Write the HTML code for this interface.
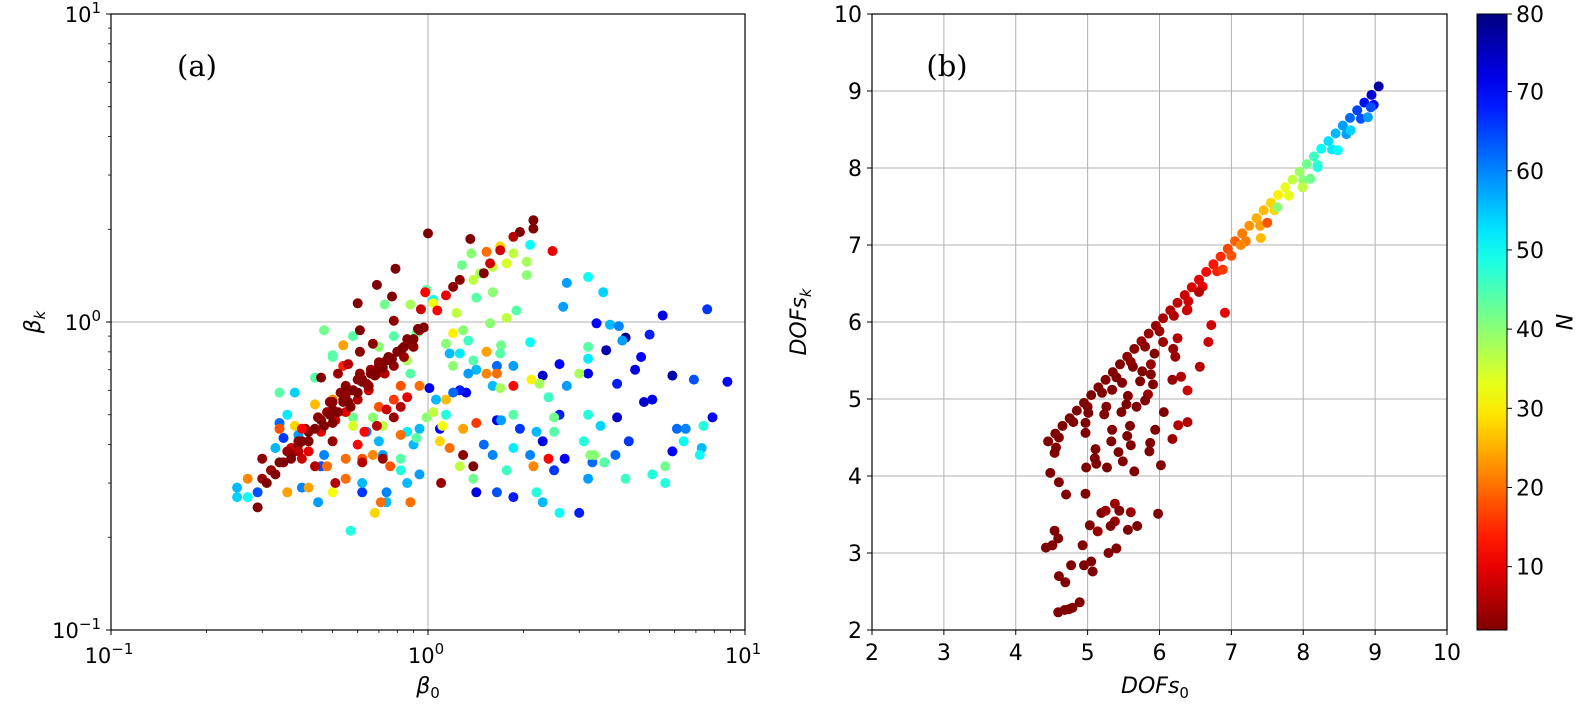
<!DOCTYPE html>
<html><head><meta charset="utf-8">
<style>
html,body{margin:0;padding:0;background:#fff;}
svg{display:block;font-family:"DejaVu Sans","Liberation Sans",sans-serif;}
</style></head>
<body>
<svg id="fig" width="1578" height="705" viewBox="0 0 1578 705" xmlns="http://www.w3.org/2000/svg">
<defs><linearGradient id="jetgrad" x1="0" y1="1" x2="0" y2="0"></linearGradient></defs>
<g id="panelA"></g>
<g id="panelB"></g>
<g id="cbar"></g>
</svg>
<script>
// ---------- Panel (a) data: beta0, betak, N ----------
const aBeta0 = [3.4,5.5,7.6,5.0,3.65,4.2,4.7,4.5,5.9,8.8,6.9,3.95,3.2,2.3,2.6,5.1,4.8,7.9,5.9,3.95,4.3,2.6,2.3,1.95,1.65,1.32,1.26,1.01,1.09,2.7,3.0,1.86,1.42,1.65,0.62,2.5,3.3,3.9,6.1,6.5,7.3,7.4,6.4,5.1,5.6,4.2,3.6,3.2,2.6,2.3,2.2,7.2,2.74,3.2,3.57,2.67,3.75,4.0,4.1,2.1,3.2,3.2,3.0,2.74,2.4,3.2,3.5,2.5,3.1,3.35,2.2,2.1,1.86,1.77,1.6,1.5,1.7,1.86,1.86,1.65,1.6,1.42,1.39,1.26,1.17,1.2,1.34,1.2,1.06,1.14,0.99,0.94,0.86,0.9,0.82,0.86,0.94,0.74,0.82,0.7,0.64,0.72,0.62,0.74,0.45,0.5,0.4,0.34,0.38,0.36,0.34,0.35,0.33,0.39,0.47,0.46,0.25,0.25,0.27,0.29,0.57,0.47,0.5,0.44,0.73,0.88,1.04,1.28,1.37,1.53,1.69,1.86,2.05,2.05,2.1,1.77,1.6,1.46,1.39,1.6,1.42,1.23,1.29,1.57,1.77,1.9,1.7,1.53,1.69,1.34,1.14,1.2,1.04,0.99,0.92,0.78,0.7,0.58,0.54,0.5,0.54,0.86,0.88,0.94,0.82,0.78,0.7,0.67,0.58,0.58,0.72,0.82,0.92,1.17,1.29,1.42,1.14,1.09,1.04,1.11,1.26,1.39,1.53,1.65,1.86,2.12,2.25,1.69,2.4,2.15,3.25,3.6,5.6,2.5,0.68,0.88,0.71,0.48,0.36,0.27,0.42,0.55,0.62,0.51,0.55,0.34,0.38,0.44,0.5,0.5,0.6,0.67,0.76,1.1,1.29,1.39,0.72,0.62,0.29,0.3,0.3,0.32,0.37,0.4,0.44,0.56,0.67,0.61,0.6,0.69,0.77,0.79,0.78,1.0,1.36,0.95,0.98,1.07,1.14,1.2,1.26,1.5,1.69,1.86,1.95,2.15,2.15,2.47,1.57,0.94,0.88,0.84,0.74,0.69,0.62,0.58,0.54,0.5,0.46,0.42,0.39,0.37,0.34,0.32,0.66,0.61,0.55,0.53,0.49,0.48,0.45,0.41,0.39,0.36,0.84,0.9,0.78,0.73,0.65,0.6,0.55,0.51,0.46,0.39,0.74,0.82,0.86,0.78,0.69,0.63,0.61,0.55,0.52,0.46,0.4,0.42,
0.31,0.33,0.35,0.37,0.40,0.42,0.44,0.47,0.49,0.52,0.54,0.56,0.58,0.6,0.62,0.64,0.66,0.68,0.7,0.72,0.75,0.77,0.8,0.83,0.86,0.9,0.93,0.97,0.45,0.5,0.55,0.6,0.65,0.7,0.5,0.57];
const aBetaK = [0.99,1.05,1.1,0.91,0.81,0.89,0.77,0.70,0.67,0.64,0.65,0.63,0.68,0.67,0.73,0.56,0.55,0.49,0.38,0.49,0.41,0.5,0.41,0.45,0.48,0.59,0.6,0.61,0.45,0.36,0.24,0.27,0.28,0.28,0.28,0.33,0.35,0.37,0.45,0.45,0.39,0.46,0.41,0.32,0.30,0.31,0.35,0.31,0.24,0.26,0.28,0.37,1.34,1.4,1.25,1.12,0.98,0.97,0.87,0.86,0.83,0.76,0.68,0.62,0.57,0.5,0.46,0.49,0.41,0.37,0.44,0.37,0.39,0.33,0.37,0.40,0.48,0.5,0.72,0.72,0.62,0.7,0.75,0.79,0.79,0.72,0.68,0.59,0.56,0.5,0.49,0.45,0.44,0.4,0.36,0.3,0.32,0.28,0.33,0.41,0.44,0.37,0.3,0.26,0.26,0.28,0.29,0.59,0.59,0.5,0.47,0.42,0.39,0.43,0.37,0.34,0.29,0.27,0.27,0.28,0.21,0.94,0.77,0.66,1.14,1.14,1.18,1.53,1.67,1.69,1.76,1.67,1.57,1.42,1.78,1.55,1.51,1.44,1.37,1.25,1.2,1.07,0.94,0.99,1.03,1.09,0.84,0.8,0.79,0.87,0.85,0.92,1.15,1.27,0.92,0.9,0.83,0.9,0.84,0.78,0.72,0.75,0.68,0.62,0.62,0.56,0.53,0.49,0.49,0.46,0.46,0.43,0.42,0.39,0.45,0.47,0.56,0.41,0.51,0.46,0.34,0.31,0.68,0.68,0.62,0.65,0.63,0.61,0.36,0.34,0.37,0.35,0.34,0.44,0.24,0.26,0.26,0.34,0.28,0.31,0.29,0.36,0.36,0.3,0.31,0.45,0.46,0.54,0.56,0.41,0.4,0.37,0.34,0.3,0.37,0.34,0.36,0.35,0.25,0.31,0.36,0.33,0.39,0.36,0.34,0.73,0.85,0.94,1.15,1.32,1.21,1.49,1.01,1.94,1.86,1.1,1.25,1.09,1.22,1.3,1.37,1.44,1.71,1.89,1.96,2.14,2.01,1.7,1.55,0.94,0.87,0.83,0.75,0.68,0.65,0.6,0.56,0.52,0.48,0.44,0.4,0.37,0.35,0.33,0.7,0.68,0.62,0.59,0.55,0.51,0.49,0.45,0.41,0.38,0.77,0.83,0.72,0.68,0.6,0.56,0.51,0.48,0.44,0.38,0.52,0.53,0.57,0.49,0.46,0.44,0.8,0.59,0.68,0.66,0.45,0.38,
0.30,0.32,0.35,0.36,0.41,0.41,0.45,0.46,0.5,0.51,0.55,0.55,0.6,0.59,0.64,0.63,0.68,0.67,0.72,0.71,0.77,0.76,0.8,0.82,0.88,0.88,0.95,0.96,0.49,0.55,0.58,0.65,0.62,0.74,0.47,0.53];
const aN = [70,72,66,68,76,78,70,72,76,70,64,68,72,74,70,72,74,70,70,74,66,68,72,66,72,70,68,72,70,70,68,68,72,64,66,66,62,62,62,60,56,48,50,48,48,46,56,58,50,56,48,50,58,50,54,58,56,60,58,50,44,52,38,58,46,48,54,42,48,40,56,60,52,46,60,62,58,44,58,62,56,56,44,52,56,40,58,62,56,48,40,56,52,56,44,56,58,60,48,56,60,58,56,56,58,32,60,44,54,52,62,66,56,58,60,64,56,54,50,64,48,42,44,44,42,38,50,42,40,20,28,36,38,40,50,34,36,38,36,40,44,36,40,40,36,44,42,24,44,46,40,30,32,44,42,44,40,44,24,44,14,38,44,20,18,16,18,40,42,34,36,20,44,20,24,16,26,28,36,32,36,42,22,20,12,30,38,38,12,22,40,44,42,44,28,20,20,20,24,22,24,20,18,6,20,18,28,26,22,4,12,22,18,4,3,2,4,6,2,4,3,6,8,8,6,6,3,2,2,2,2,2,3,2,2,8,12,12,10,3,3,2,8,6,2,2,2,10,8,4,2,2,2,2,2,2,2,2,2,2,2,2,2,4,4,3,3,3,3,4,2,4,3,4,4,3,3,6,8,6,10,8,10,6,8,6,10,4,6,12,3,2,4,2,12,10,
2,2,2,2,2,2,2,2,2,2,2,2,2,2,2,2,2,2,2,2,2,2,2,2,2,2,2,2,3,3,3,3,3,3,2,2];

// ---------- Panel (b) data: DOFs0, DOFsk, N ----------
const bDof0 = [6.91,6.72,6.68,6.56,6.38,6.25,6.19,6.22,6.3,6.18,6.39,6.05,5.93,5.88,5.88,5.91,5.84,5.8,5.76,5.73,5.63,5.68,5.56,5.54,5.47,5.48,5.34,5.26,5.23,5.01,6.06,6.39,6.26,5.94,6.18,5.59,5.55,5.6,5.34,5.33,5.87,5.86,5.43,5.49,5.65,6.02,5.11,5.1,5.12,4.98,5.27,4.97,4.97,4.54,4.56,4.48,4.6,4.7,4.97,5.19,5.25,5.38,5.44,5.6,5.98,5.03,5.14,5.38,5.32,5.56,5.69,4.54,4.59,4.42,4.51,4.93,5.29,5.4,4.77,4.95,5.05,5.07,4.6,4.69,4.89,4.79,4.68,4.59,4.74,
4.45,4.55,4.65,4.75,4.85,4.95,5.05,5.15,5.25,5.35,5.45,5.55,5.65,5.75,5.85,5.95,6.05,6.15,6.25,6.35,6.45,6.55,6.65,6.75,6.85,6.95,7.05,7.15,7.25,7.35,7.45,7.55,7.65,7.75,7.85,7.95,8.05,8.15,8.25,8.35,8.45,8.55,8.65,8.75,8.85,8.95,9.05,
4.6,4.8,5.0,5.2,5.4,5.6,5.8,6.0,6.2,6.4,6.6,6.8,7.0,7.2,7.4,7.6,7.8,8.0,8.2,8.4,8.6,8.8,8.98,
7.41,8.1,7.99,7.64,7.5,6.39,6.55,6.88,7.13,8.9,8.48,8.66,8.2,8.94];
const bDofK = [6.12,5.96,5.74,5.42,6.15,5.79,5.65,5.55,5.29,5.25,5.11,5.74,5.59,5.45,5.32,5.19,5.06,4.98,5.36,5.23,5.42,4.9,5.04,4.93,4.83,5.21,5.12,4.9,4.8,4.82,4.83,4.7,4.66,4.6,4.48,4.65,4.52,4.4,4.6,4.45,4.43,4.32,4.31,4.19,4.06,4.14,4.35,4.23,4.16,4.11,4.11,4.56,4.69,4.3,4.37,4.04,3.92,3.76,3.77,3.52,3.55,3.64,3.55,3.53,3.51,3.36,3.28,3.41,3.35,3.3,3.35,3.29,3.19,3.07,3.1,3.1,3.0,3.06,2.84,2.84,2.89,2.76,2.7,2.62,2.36,2.29,2.26,2.23,2.27,
4.45,4.55,4.65,4.75,4.85,4.95,5.05,5.15,5.25,5.35,5.45,5.55,5.65,5.75,5.85,5.95,6.05,6.15,6.25,6.35,6.45,6.55,6.65,6.75,6.85,6.95,7.05,7.15,7.25,7.35,7.45,7.55,7.65,7.75,7.85,7.95,8.05,8.15,8.25,8.35,8.45,8.55,8.65,8.75,8.85,8.95,9.06,
4.5,4.7,4.9,5.08,5.28,5.48,5.68,5.88,6.08,6.27,6.46,6.66,6.86,7.05,7.25,7.45,7.64,7.84,8.04,8.24,8.44,8.64,8.82,
7.09,7.86,7.75,7.49,7.29,6.16,6.39,6.68,7.0,8.66,8.23,8.49,8.01,8.79];
const bN = [10,8,8,6,8,6,4,4,6,4,8,4,2,4,2,2,4,2,2,2,2,2,2,2,2,2,2,2,2,2,2,6,6,2,4,2,2,2,2,2,2,2,2,2,2,2,2,2,2,2,2,2,2,2,2,2,2,2,2,2,4,4,2,4,2,2,4,4,2,2,2,2,2,2,2,2,2,2,2,2,2,2,2,2,2,2,2,2,2,
2,2,2,2,2,2,2,2,2,2,2,3,3,4,4,4,5,6,7,8,9,10,12,13,15,17,19,21,23,25,26,28,30,33,36,39,42,46,50,53,56,58,62,65,69,73,77,
2,2,2,2,2,3,3,4,6,8,10,14,18,21,24,28,33,40,46,52,58,64,70,
26,42,36,40,18,8,6,16,22,58,50,54,48,64];

const NMIN = 2, NMAX = 79.8;
const SVGNS = "http://www.w3.org/2000/svg";
function jet(v){
  let t=(v-NMIN)/(NMAX-NMIN); t=Math.max(0,Math.min(1,t));
  t=1-t; // reversed jet: low N dark red, high N dark blue
  const c=x=>Math.round(255*Math.max(0,Math.min(1,x)));
  return `rgb(${c(1.5-Math.abs(4*t-3))},${c(1.5-Math.abs(4*t-2))},${c(1.5-Math.abs(4*t-1))})`;
}
function el(tag, attrs, parent, text){
  const e=document.createElementNS(SVGNS,tag);
  for(const k in attrs) e.setAttribute(k,attrs[k]);
  if(text!==undefined) e.textContent=text;
  parent.appendChild(e); return e;
}
const GRID="#b0b0b0";

// ---------- Panel A ----------
const A={l:111,r:745,t:14,b:630};
const axAx=v=>A.l+(Math.log10(v)+1)/2*(A.r-A.l);
const axAy=v=>A.b-(Math.log10(v)+1)/2*(A.b-A.t);
const gA=document.getElementById('panelA');
const gridA = el('g',{},gA);


el('line',{x1:axAx(1),x2:axAx(1),y1:A.t,y2:A.b,stroke:GRID,'stroke-width':1},gridA);
el('line',{x1:A.l,x2:A.r,y1:axAy(1),y2:axAy(1),stroke:GRID,'stroke-width':1},gridA);
const ptsA=el('g',{},gA);


const nA=Math.min(aBeta0.length,aBetaK.length,aN.length);
for(let i=0;i<nA;i++){
  const c=el('circle',{cx:axAx(aBeta0[i]).toFixed(1),cy:axAy(aBetaK[i]).toFixed(1),r:5,fill:jet(aN[i])},ptsA);
  
  
}
el('rect',{x:A.l,y:A.t,width:A.r-A.l,height:A.b-A.t,fill:'none',stroke:'#000','stroke-width':1.2},gA);
const decA=[0.1,1,10], expA=['−1','0','1'];
for(let d=0; d<2; d++){
  for(let m=2;m<=9;m++){
    const v=decA[d]*m;
    el('line',{x1:axAx(v),x2:axAx(v),y1:A.b,y2:A.b+3,stroke:'#000','stroke-width':0.8},gA);
    el('line',{x1:A.l-3,x2:A.l,y1:axAy(v),y2:axAy(v),stroke:'#000','stroke-width':0.8},gA);
  }
}
decA.forEach((v,i)=>{
  el('line',{x1:axAx(v),x2:axAx(v),y1:A.b,y2:A.b+5,stroke:'#000','stroke-width':1},gA);
  el('line',{x1:A.l-5,x2:A.l,y1:axAy(v),y2:axAy(v),stroke:'#000','stroke-width':1},gA);
  const tx=el('text',{x:axAx(v)-2,y:A.b+33,'font-size':21,'text-anchor':'middle'},gA);
  
  
  tx.innerHTML='10<tspan font-size="15" dy="-9">'+expA[i]+'</tspan>';
  const ty=el('text',{x:A.l-10,y:axAy(v)+8,'font-size':21,'text-anchor':'end'},gA);
  
  
  ty.innerHTML='10<tspan font-size="15" dy="-9">'+expA[i]+'</tspan>';
});
const xla=el('text',{x:428,y:693,'font-size':22,'text-anchor':'middle','font-style':'italic'},gA);


xla.innerHTML='β<tspan font-size="15" dy="5" font-style="normal">0</tspan>';
const yla=el('text',{transform:'translate(40,322) rotate(-90)','font-size':22,'text-anchor':'middle','font-style':'italic'},gA);


yla.innerHTML='β<tspan font-size="15" dy="5">k</tspan>';
const pla=el('text',{x:197,y:76,'font-size':29,'text-anchor':'middle','font-family':'"DejaVu Serif","Liberation Serif",serif'},gA,'(a)');



// ---------- Panel B ----------
const B={l:872,r:1447,t:14,b:630};
const bx=v=>B.l+(v-2)/8*(B.r-B.l);
const by=v=>B.b-(v-2)/8*(B.b-B.t);
const gB=document.getElementById('panelB');
const gridB=el('g',{},gB);


const ticksB=[2,3,4,5,6,7,8,9,10];
ticksB.forEach(v=>{
  el('line',{x1:bx(v),x2:bx(v),y1:B.t,y2:B.b,stroke:GRID,'stroke-width':1},gridB);
  el('line',{x1:B.l,x2:B.r,y1:by(v),y2:by(v),stroke:GRID,'stroke-width':1},gridB);
});
const ptsB=el('g',{},gB);


const nB=Math.min(bDof0.length,bDofK.length,bN.length);
for(let i=0;i<nB;i++){
  const c=el('circle',{cx:bx(bDof0[i]).toFixed(1),cy:by(bDofK[i]).toFixed(1),r:5,fill:jet(bN[i])},ptsB);
  
  
}
el('rect',{x:B.l,y:B.t,width:B.r-B.l,height:B.b-B.t,fill:'none',stroke:'#000','stroke-width':1.2},gB);
ticksB.forEach(v=>{
  el('line',{x1:bx(v),x2:bx(v),y1:B.b,y2:B.b+5,stroke:'#000','stroke-width':1},gB);
  el('line',{x1:B.l-5,x2:B.l,y1:by(v),y2:by(v),stroke:'#000','stroke-width':1},gB);
  const tx=el('text',{x:bx(v),y:B.b+30,'font-size':22,'text-anchor':'middle'},gB,String(v));
  
  
  const ty=el('text',{x:B.l-10,y:by(v)+8,'font-size':22,'text-anchor':'end'},gB,String(v));
  
  
});
const xlb=el('text',{x:1155,y:693,'font-size':22,'text-anchor':'middle','font-style':'italic'},gB);


xlb.innerHTML='DOFs<tspan font-size="15" dy="5" font-style="normal">0</tspan>';
const ylb=el('text',{transform:'translate(806,322) rotate(-90)','font-size':22,'text-anchor':'middle','font-style':'italic'},gB);


ylb.innerHTML='DOFs<tspan font-size="15" dy="5">k</tspan>';
const plb=el('text',{x:947,y:76,'font-size':29,'text-anchor':'middle','font-family':'"DejaVu Serif","Liberation Serif",serif'},gB,'(b)');



// ---------- Colorbar ----------
const grad=document.getElementById('jetgrad');
for(let k=0;k<=20;k++){
  const v=NMIN+(NMAX-NMIN)*k/20;
  el('stop',{offset:(k/20*100)+'%','stop-color':jet(v)},grad);
}
const CB={l:1477,r:1507,t:14,b:630};
const cy=v=>CB.b-(v-NMIN)/(NMAX-NMIN)*(CB.b-CB.t);
const gC=document.getElementById('cbar');
const cbr=el('rect',{x:CB.l,y:CB.t,width:CB.r-CB.l,height:CB.b-CB.t,fill:'url(#jetgrad)',stroke:'#000','stroke-width':1},gC);


const cbTicks=[10,20,30,40,50,60,70,80];
cbTicks.forEach(v=>{
  const y=Math.max(CB.t,cy(v));
  el('line',{x1:CB.r,x2:CB.r+5,y1:y,y2:y,stroke:'#000','stroke-width':1},gC);
  const t=el('text',{x:CB.r+9,y:y+8,'font-size':22},gC,String(v));
  
  
});
const nl=el('text',{transform:'translate(1556,322) rotate(90)','font-size':22,'text-anchor':'middle','font-style':'italic'},gC,'N');


</script>
</body></html>
